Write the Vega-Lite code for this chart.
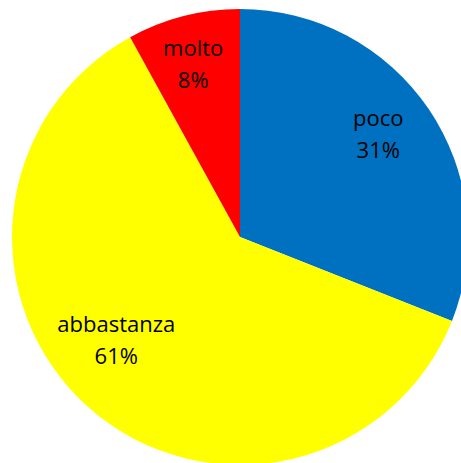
{
  "$schema": "https://vega.github.io/schema/vega-lite/v6.json",
  "width": 480,
  "height": 474,
  "autosize": "none",
  "padding": 0,
  "background": "white",
  "config": {"view": {"stroke": null}},
  "data": {
    "values": [
      {"cat": "poco", "value": 31, "ord": 1, "label": "poco\n31%"},
      {"cat": "abbastanza", "value": 61, "ord": 2, "label": "abbastanza\n61%"},
      {"cat": "molto", "value": 8, "ord": 3, "label": "molto\n8%"}
    ]
  },
  "encoding": {
    "theta": {"field": "value", "type": "quantitative", "stack": true},
    "order": {"field": "ord", "type": "quantitative"}
  },
  "layer": [
    {
      "mark": {"type": "arc", "outerRadius": 228, "strokeWidth": 0},
      "encoding": {
        "color": {
          "field": "cat",
          "type": "nominal",
          "scale": {"domain": ["poco", "abbastanza", "molto"], "range": ["#0070C0", "#FFFF00", "#FF0000"]},
          "legend": null
        }
      }
    },
    {
      "mark": {"type": "text", "radius": 172, "font": "Open Sans", "fontSize": 22, "lineBreak": "\n", "lineHeight": 32, "color": "black", "align": "center", "baseline": "middle", "dx": -4, "dy": -21},
      "encoding": {
        "text": {"condition": {"test": "datum.cat !== 'abbastanza'", "field": "label"}, "value": ""}
      }
    },
    {
      "mark": {"type": "text", "radius": 172, "font": "Open Sans", "fontSize": 22, "lineBreak": "\n", "lineHeight": 32, "color": "black", "align": "center", "baseline": "middle", "dx": -10, "dy": -41},
      "encoding": {
        "text": {"condition": {"test": "datum.cat === 'abbastanza'", "field": "label"}, "value": ""}
      }
    }
  ]
}
